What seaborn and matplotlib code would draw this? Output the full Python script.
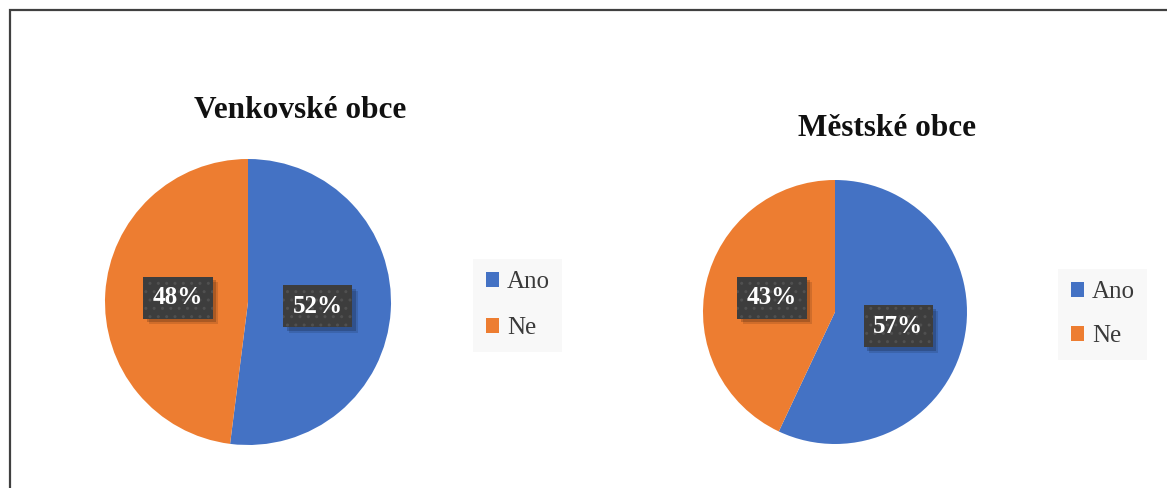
import matplotlib
matplotlib.use("Agg")
import matplotlib.pyplot as plt
import matplotlib.patheffects as pe
from matplotlib.patches import Rectangle
import seaborn as sns

categories = ["Ano", "Ne"]
venkov_values = [52, 48]
mesto_values = [57, 43]
titles = ["Venkovské obce", "Městské obce"]

sns.set_theme(style="white")
plt.rcParams['font.family'] = ['Liberation Serif', 'DejaVu Serif']
plt.rcParams['hatch.linewidth'] = 1.0
colors = sns.color_palette(["#4472C4", "#ED7D31"])

W, H = 1167, 488
fig = plt.figure(figsize=(W / 100, H / 100), dpi=100)
fig.patch.set_facecolor("white")

def px_axes(cx, cy, r):
    return fig.add_axes([(cx - r) / W, (H - cy - r) / H, 2 * r / W, 2 * r / H])

specs = [
    dict(values=venkov_values, title=titles[0], c=(248, 302), r=143, title_xy=(300, 111),
         leg_anchor=(473, 259), spacing=0.95),
    dict(values=mesto_values, title=titles[1], c=(835, 312), r=132, title_xy=(887, 128),
         leg_anchor=(1058, 269), spacing=0.88),
]

for s in specs:
    ax = px_axes(s["c"][0], s["c"][1], s["r"])
    wedges, texts, autotexts = ax.pie(
        s["values"], colors=colors, startangle=90, counterclock=False,
        autopct="%.0f%%", pctdistance=0.49, radius=1.0,
        wedgeprops=dict(linewidth=0),
        textprops=dict(color="white", fontsize=18, fontweight="bold"))
    ax.set_xlim(-1, 1)
    ax.set_ylim(-1, 1)
    ax.set_aspect("equal")
    for t in autotexts:
        t.set_bbox(dict(boxstyle="square,pad=0.38", facecolor="#3d3d3d",
                        edgecolor="none", linewidth=0))
        bp = t.get_bbox_patch()
        bp.set_path_effects([
            pe.SimplePatchShadow(offset=(4, -4), shadow_rgbFace="black", alpha=0.12),
            pe.SimplePatchShadow(offset=(2.5, -2.5), shadow_rgbFace="black", alpha=0.18),
            pe.Normal()])
        x, y = t.get_position()
        ax.text(x, y, t.get_text(), ha="center", va="center", color="white",
                fontsize=18, fontweight="bold",
                bbox=dict(boxstyle="square,pad=0.38", facecolor="none",
                          edgecolor="#505050", hatch="..", linewidth=0))
        t.set_color("none")
    fig.text(s["title_xy"][0] / W, 1 - s["title_xy"][1] / H, s["title"],
             ha="center", va="center", fontsize=22.5, fontweight="bold", color="#111111")
    leg = fig.legend(wedges, categories, loc="upper left",
                     bbox_to_anchor=(s["leg_anchor"][0] / W, 1 - s["leg_anchor"][1] / H),
                     frameon=True, fontsize=18, handlelength=0.55, handleheight=0.55,
                     handletextpad=0.3, labelspacing=s["spacing"], borderpad=0.5,
                     fancybox=False, borderaxespad=0)
    leg.get_frame().set_facecolor("#f7f7f7")
    leg.get_frame().set_edgecolor("none")
    for txt in leg.get_texts():
        txt.set_color("#3a3a3a")

# outer frame
fig.patches.append(Rectangle((9.5 / W, -0.05), 1.2, 1 - 9.5 / H + 0.05,
                             transform=fig.transFigure, fill=False,
                             edgecolor="#404040", linewidth=1.6))

fig.savefig("out.png", dpi=100, facecolor="white")
